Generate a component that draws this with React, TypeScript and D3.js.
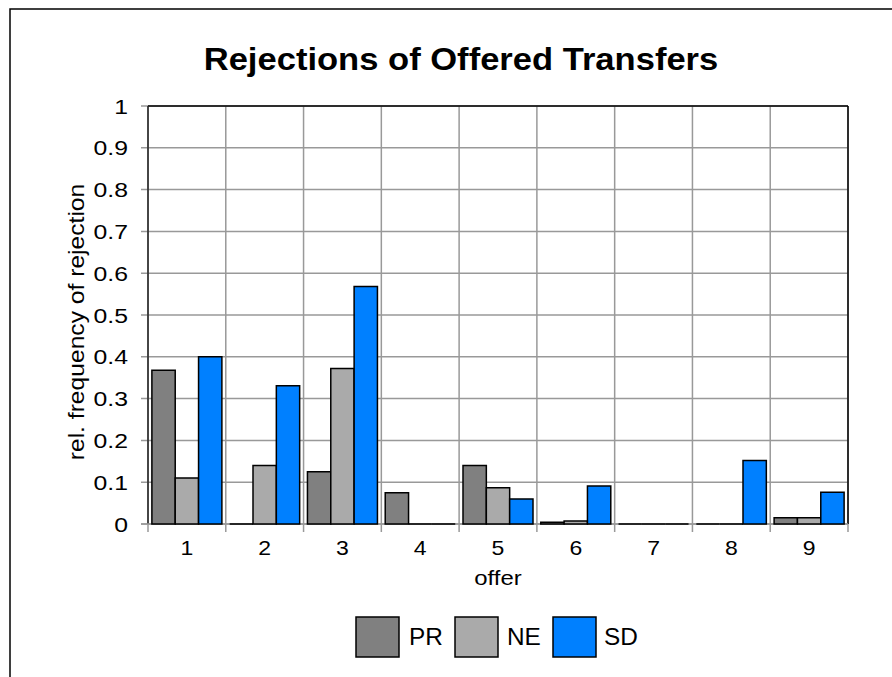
import React from 'react';
import * as d3 from 'd3';

// values
const offers = ['1', '2', '3', '4', '5', '6', '7', '8', '9'];
const seriesNames = ['PR', 'NE', 'SD'];
const prValues = [0.368, 0, 0.125, 0.075, 0.14, 0.004, 0, 0, 0.015];
const neValues = [0.11, 0.14, 0.372, 0, 0.087, 0.007, 0, 0, 0.015];
const sdValues = [0.4, 0.331, 0.568, 0, 0.06, 0.091, 0, 0.152, 0.076];
const yTicks = [0, 0.1, 0.2, 0.3, 0.4, 0.5, 0.6, 0.7, 0.8, 0.9, 1];
const colors = ['#808080', '#aaaaaa', '#0080ff'];

const W = 892;
const H = 677;
const plot = { left: 148, right: 848, top: 106, bottom: 524 };
const font = '"Liberation Sans", Arial, sans-serif';

// text slightly stretched sideways, like the reference rendering
function T(props: {
    x: number; y: number; size: number; sx?: number; rot?: number;
    anchor?: string; bold?: boolean; dy?: string; children: React.ReactNode;
}) {
    const { x, y, size, sx = 1, rot = 0, anchor = 'start', bold, dy, children } = props;
    return (
        <text
            transform={`translate(${x},${y}) rotate(${rot}) scale(${sx},1)`}
            textAnchor={anchor}
            dy={dy}
            fontFamily={font}
            fontWeight={bold ? 'bold' : 'normal'}
            fontSize={size}
        >
            {children}
        </text>
    );
}

export default function App() {
    const x = d3.scaleBand<string>()
        .domain(offers)
        .range([plot.left, plot.right])
        .paddingInner(0)
        .paddingOuter(0);

    const inner = d3.scaleBand<string>()
        .domain(seriesNames)
        .range([x.bandwidth() * 0.05, x.bandwidth() * 0.95]);

    const y = d3.scaleLinear().domain([0, 1]).range([plot.bottom, plot.top]);

    const series = [prValues, neValues, sdValues];
    const boundaries = offers.map(o => x(o) as number).concat(plot.right);

    // path so zero-height bars still show as a black line
    const barPath = (x0: number, w: number, v: number) => {
        const y0 = y(0);
        const y1 = y(v);
        return `M${x0},${y0}V${y1}H${x0 + w}V${y0}Z`;
    };

    const legendItems = [
        { name: 'PR', box: 356, text: 409 },
        { name: 'NE', box: 455, text: 507 },
        { name: 'SD', box: 553, text: 604 },
    ];

    return (
        <svg width={W} height={H} style={{ position: 'absolute', left: 0, top: 0, background: '#fff' }}>
            {/* chart border, cut off at right and bottom */}
            <rect x={10} y={9} width={W + 40} height={H + 40} fill="#fff" stroke="#000" strokeWidth={1.5} />

            <T x={461} y={70} size={32} sx={1.08} anchor="middle" bold>
                Rejections of Offered Transfers
            </T>

            {/* gridlines */}
            {yTicks.map(t => (
                <line key={'gy' + t} x1={plot.left - 7} x2={plot.right} y1={y(t)} y2={y(t)} stroke="#999" strokeWidth={1.5} />
            ))}
            {boundaries.map((b, i) => (
                <line key={'gx' + i} x1={b} x2={b} y1={plot.top} y2={plot.bottom + 8} stroke="#999" strokeWidth={1.5} />
            ))}

            {/* plot border */}
            <line x1={plot.left} x2={plot.right} y1={plot.top} y2={plot.top} stroke="#000" strokeWidth={1.5} />
            <line x1={plot.right} x2={plot.right} y1={plot.top} y2={plot.bottom} stroke="#000" strokeWidth={1.5} />
            <line x1={plot.left} x2={plot.left} y1={plot.top} y2={plot.bottom} stroke="#222" strokeWidth={1.5} />
            <line x1={plot.left - 7} x2={plot.right} y1={plot.bottom} y2={plot.bottom} stroke="#999" strokeWidth={1.5} />

            {/* bars */}
            {offers.map((o, i) => (
                <g key={o}>
                    {seriesNames.map((s, j) => (
                        <path
                            key={s}
                            d={barPath((x(o) as number) + (inner(s) as number), inner.bandwidth(), series[j][i])}
                            fill={colors[j]}
                            stroke="#000"
                            strokeWidth={1.5}
                        />
                    ))}
                </g>
            ))}

            {/* y tick labels */}
            {yTicks.map(t => (
                <T key={'ly' + t} x={128} y={y(t)} dy="0.36em" size={21} sx={1.18} anchor="end">
                    {d3.format('~g')(t)}
                </T>
            ))}

            {/* x tick labels */}
            {offers.map(o => (
                <T key={'lx' + o} x={(x(o) as number) + x.bandwidth() / 2} y={555} size={20} sx={1.15} anchor="middle">
                    {o}
                </T>
            ))}

            <T x={(plot.left + plot.right) / 2} y={585} size={21} sx={1.14} anchor="middle">
                offer
            </T>
            <T x={84} y={322} rot={-90} size={22} sx={1.12} anchor="middle">
                rel. frequency of rejection
            </T>

            {/* legend */}
            {legendItems.map((d, i) => (
                <g key={d.name}>
                    <rect x={d.box} y={617} width={43} height={40} fill={colors[i]} stroke="#000" strokeWidth={1.5} />
                    <T x={d.text} y={645} size={23} sx={1.06}>{d.name}</T>
                </g>
            ))}
        </svg>
    );
}
